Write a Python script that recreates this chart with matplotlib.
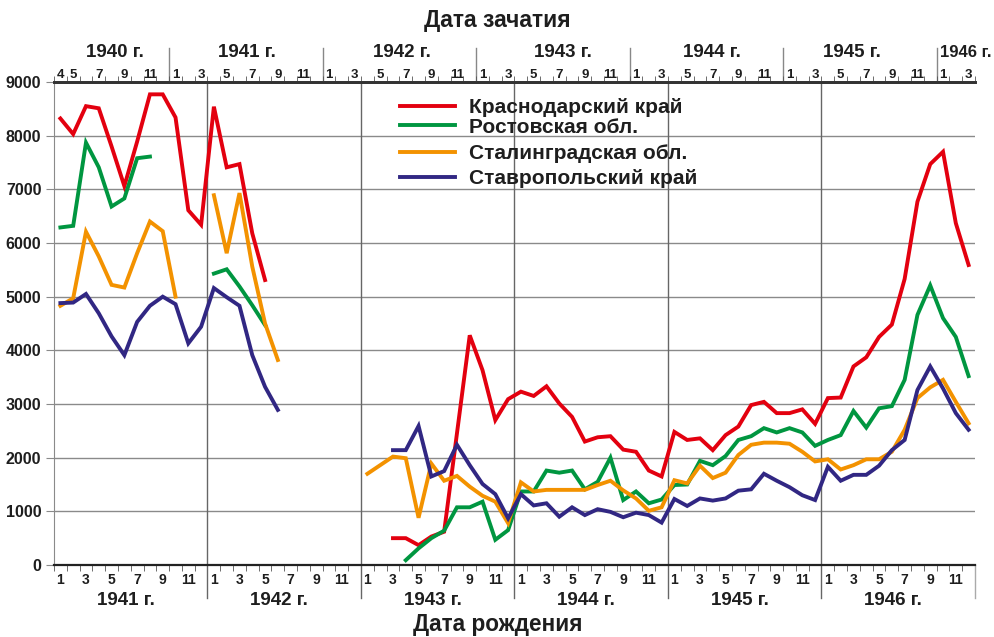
import numpy as np
import matplotlib
matplotlib.use("Agg")
import matplotlib.pyplot as plt
from matplotlib.lines import Line2D

plt.rcParams['font.family'] = ['Liberation Sans', 'DejaVu Sans']
plt.rcParams['font.weight'] = 'bold'

nan = np.nan
# monthly births, Jan 1941 .. Dec 1946 (one row per year)
krasnodar = [
    8320, 8030, 8550, 8510, 7800, 7060, 7890, 8770, 8770, 8340, 6610, 6340,
    8540, 7410, 7470, 6180, 5310, nan, nan, nan, nan, nan, nan, nan,
    nan, nan, 500, 500, 370, 530, 620, 2450, 4280, 3630, 2700, 3090,
    3230, 3150, 3330, 3010, 2760, 2300, 2380, 2400, 2150, 2110, 1760, 1650,
    2480, 2330, 2360, 2140, 2420, 2580, 2980, 3040, 2830, 2830, 2900, 2630,
    3110, 3120, 3700, 3870, 4250, 4480, 5330, 6770, 7470, 7700, 6370, 5590,
]
rostov = [
    6290, 6320, 7870, 7410, 6680, 6830, 7580, 7610, nan, nan, nan, nan,
    5430, 5510, 5190, 4840, 4470, nan, nan, nan, nan, nan, nan, nan,
    nan, nan, nan, 90, 310, 500, 640, 1075, 1075, 1180, 470, 650,
    1370, 1370, 1760, 1720, 1760, 1410, 1550, 2000, 1210, 1370, 1150, 1220,
    1490, 1500, 1940, 1860, 2030, 2330, 2400, 2550, 2470, 2550, 2470, 2220,
    2330, 2420, 2870, 2560, 2920, 2960, 3450, 4660, 5210, 4600, 4250, 3520,
]
stalingrad = [
    4830, 4970, 6210, 5750, 5220, 5170, 5810, 6400, 6220, 5000, nan, nan,
    6890, 5810, 6930, 5560, 4500, 3820, nan, nan, nan, nan, nan, nan,
    1700, 1860, 2020, 1990, 880, 1890, 1570, 1660, 1460, 1290, 1180, 780,
    1540, 1370, 1400, 1400, 1400, 1400, 1490, 1570, 1390, 1240, 1010, 1075,
    1580, 1520, 1850, 1620, 1720, 2050, 2240, 2280, 2280, 2260, 2110, 1930,
    1970, 1780, 1860, 1970, 1970, 2110, 2520, 3110, 3310, 3450, 3040, 2640,
]
stavropol = [
    4880, 4890, 5050, 4690, 4260, 3910, 4530, 4830, 5000, 4860, 4130, 4440,
    5160, 4990, 4830, 3910, 3320, 2890, nan, nan, nan, nan, nan, nan,
    nan, nan, 2140, 2140, 2590, 1650, 1750, 2240, 1860, 1510, 1320, 870,
    1320, 1110, 1150, 900, 1075, 930, 1040, 990, 890, 975, 930, 790,
    1230, 1100, 1240, 1200, 1240, 1385, 1410, 1700, 1570, 1450, 1300, 1210,
    1830, 1570, 1680, 1680, 1850, 2140, 2330, 3260, 3700, 3290, 2830, 2520,
]
series = [
    ("Краснодарский край", krasnodar, "#e3000f"),
    ("Ростовская обл.", rostov, "#009640"),
    ("Сталинградская обл.", stalingrad, "#f39200"),
    ("Ставропольский край", stavropol, "#312783"),
]

birth_years = ["1941 г.", "1942 г.", "1943 г.", "1944 г.", "1945 г.", "1946 г."]
conc_years = ["1940 г.", "1941 г.", "1942 г.", "1943 г.", "1944 г.", "1945 г.", "1946 г."]
month_labels = [1, 3, 5, 7, 9, 11]

months = np.arange(72) + 0.5
grid_c = "#8a8a8a"
txt_c = "#1e1e1e"

fig = plt.figure(figsize=(9.95, 6.37), dpi=100)
ax = fig.add_axes([54/995, 72/637, 921/995, 483/637])
ax.set_xlim(0, 72)
ax.set_ylim(0, 9000)

for name, vals, col in series:
    ax.plot(months, vals, color=col, lw=2.8, solid_joinstyle='miter', zorder=3)

# grid / spines
ax.set_yticks(np.arange(0, 9001, 1000))
ax.yaxis.grid(True, color=grid_c, lw=1)
ax.set_axisbelow(True)
ax.spines['right'].set_visible(False)
ax.spines['left'].set_color(grid_c)
ax.spines['bottom'].set_color('#222')
ax.spines['bottom'].set_linewidth(1.6)
ax.spines['top'].set_color('#333')
ax.spines['top'].set_linewidth(2)
ax.tick_params(axis='y', direction='out', length=6, color=grid_c,
               labelsize=11.5, labelcolor=txt_c, pad=3)

# bottom axis: births
ax.set_xticks(np.arange(0, 73), minor=True)
ax.set_xticks([y*12 + m - 0.5 for y in range(6) for m in month_labels])
ax.set_xticklabels([str(m) for y in range(6) for m in month_labels])
ax.tick_params(axis='x', which='minor', direction='out', length=4, color='#555')
ax.tick_params(axis='x', which='major', length=0, labelsize=10,
               labelcolor=txt_c, pad=6)

for k in range(1, 6):
    ax.axvline(k*12, ymin=-33/483, ymax=1, color='#666', lw=1,
               clip_on=False, zorder=1)
ax.axvline(72, ymin=-33/483, ymax=0, color='#aaa', lw=1, clip_on=False)

xtr = ax.get_xaxis_transform()
for k, lab in enumerate(birth_years):
    ax.text(k*12 + 5.6, -0.074, lab, transform=xtr, ha='center', va='center',
            fontsize=13.5, color=txt_c)
fig.text(0.5, 1 - 625/637, "Дата рождения", ha='center', va='center',
         fontsize=16.3, color=txt_c)

# top axis: conception (birth - 9 months)
ax2 = ax.twiny()
ax2.set_xlim(0, 72)
for s in ['left', 'right', 'bottom']:
    ax2.spines[s].set_visible(False)
ax2.spines['top'].set_color('#333')
ax2.spines['top'].set_linewidth(2)
top_pos, top_lab = [], []
for cy in range(1940, 1947):
    for cm in ([4, 5, 7, 9, 11] if cy == 1940 else month_labels):
        i = (cy - 1940)*12 + cm - 4
        if 0 <= i < 72:
            top_pos.append(i + 0.5)
            top_lab.append(str(cm))
ax2.set_xticks(top_pos)
ax2.set_xticklabels(top_lab)
ax2.set_xticks(np.arange(0, 73), minor=True)
ax2.tick_params(axis='x', which='minor', direction='out', length=4, color='#555')
ax2.tick_params(axis='x', which='major', length=0, labelsize=9.5,
                labelcolor=txt_c, pad=1)

for k in range(6):
    ax.axvline(9 + 12*k, ymin=1, ymax=1 + 34/483, color='#888', lw=1,
               clip_on=False)
top_centers = [4.8, 15.1, 27.2, 39.8, 51.4, 62.4]
for c, lab in zip(top_centers, conc_years[:-1]):
    ax.text(c, 1.062, lab, transform=xtr, ha='center', va='center',
            fontsize=13.5, color=txt_c)
ax.text(69.3, 1.062, conc_years[-1], transform=xtr, ha='left', va='center',
        fontsize=12, color=txt_c)
fig.text(0.5, 1 - 20/637, "Дата зачатия", ha='center', va='center',
         fontsize=16.5, color=txt_c)

# legend in two groups
def make_leg(items, top_px, spacing):
    handles = [Line2D([], [], color=c, lw=2.8) for _, _, c in items]
    leg = ax.legend(handles, [n for n, _, _ in items], loc='upper left',
                    bbox_to_anchor=(400/995, 1 - top_px/637),
                    bbox_transform=fig.transFigure, frameon=False,
                    fontsize=15, handlelength=2.65, handletextpad=0.65,
                    labelspacing=spacing, borderpad=0, borderaxespad=0)
    for t in leg.get_texts():
        t.set_color(txt_c)
    return leg

leg1 = make_leg(series[:2], 98, 0.03)
ax.add_artist(leg1)
make_leg(series[2:], 144, 0.28)

fig.savefig("out.png", dpi=100)
